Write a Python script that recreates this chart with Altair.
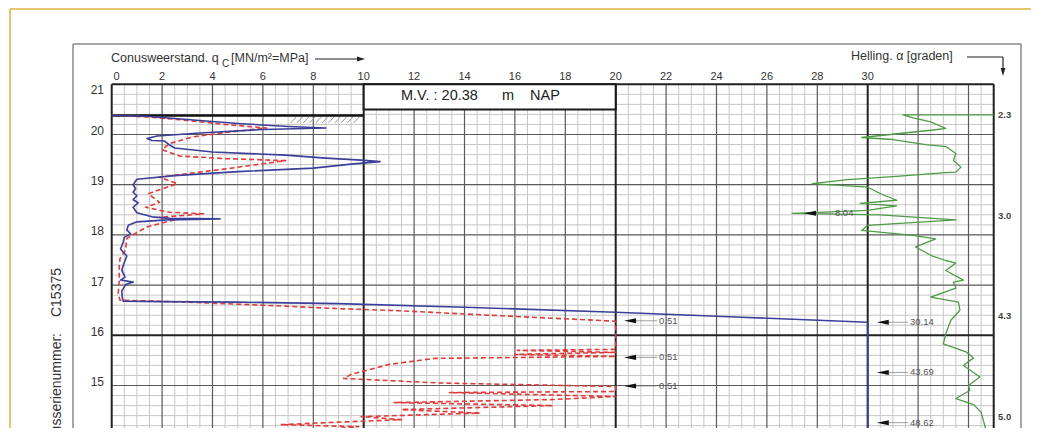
import altair as alt
import pandas as pd
import numpy as np

FONT = "Liberation Sans"

# ---------------- data (x: q_c scale units, y: depth m NAP)
blue_q = [0.0, 1.5, 3.0, 5.0, 7.0, 8.5, 6.0, 3.5, 1.8, 1.4, 1.6, 2.1, 2.3, 2.5, 4.0, 6.9,
          8.5, 9.9, 10.65, 9.5, 8.0, 5.0, 2.5, 1.0, 0.85, 0.95, 0.85, 1.0, 0.85, 1.05, 0.85,
          1.0, 1.6, 2.3, 4.3, 2.2, 1.0, 0.66, 0.6, 0.75, 0.5, 0.46, 0.35, 0.6, 0.5, 0.4,
          0.53, 0.35, 0.86, 0.55, 0.4, 0.42, 0.46, 2.0, 5.0, 9.0, 14.0, 20.0, 25.0, 30.0, 30.0]
blue_d = [20.38, 20.36, 20.30, 20.22, 20.16, 20.13, 20.10, 20.03, 19.97, 19.92, 19.88, 19.87,
          19.79, 19.73, 19.65, 19.59, 19.53, 19.49, 19.46, 19.41, 19.33, 19.26, 19.18, 19.11,
          19.00, 18.92, 18.85, 18.78, 18.70, 18.64, 18.55, 18.44, 18.36, 18.33, 18.32, 18.30,
          18.26, 18.19, 18.10, 18.02, 17.95, 17.86, 17.72, 17.58, 17.45, 17.30, 17.16, 17.10,
          17.06, 17.01, 16.88, 16.75, 16.68, 16.67, 16.66, 16.63, 16.56, 16.46, 16.36, 16.26, 14.10]

red_q = [0.0, 1.5, 3.0, 4.5, 6.15, 4.5, 3.2, 2.3, 2.0, 2.7, 4.5, 6.9, 4.6, 3.0, 1.9, 2.6,
         1.45, 1.9, 1.35, 2.3, 3.65, 1.9, 2.5, 1.4, 0.6, 0.55, 0.33, 0.3, 0.3, 0.26, 0.33,
         3.0, 6.0, 9.06, 11.4, 15.0, 20.0, 20.0, 16.1, 20.0, 16.0, 20.0, 12.8, 11.0, 9.5, 9.2,
         13.0, 20.0, 20.0, 13.4, 20.0, 17.5, 11.2, 17.5, 11.5, 14.6, 9.9, 11.5, 9.0, 6.7, 9.8, 8.0]
red_d = [20.38, 20.35, 20.28, 20.20, 20.13, 20.04, 19.95, 19.82, 19.70, 19.57, 19.52, 19.48,
         19.32, 19.22, 19.15, 19.02, 18.82, 18.65, 18.55, 18.45, 18.42, 18.35, 18.30, 18.16,
         17.93, 17.70, 17.53, 17.36, 17.10, 16.83, 16.70, 16.66, 16.60, 16.53, 16.49, 16.40,
         16.28, 15.72, 15.70, 15.66, 15.62, 15.58, 15.54, 15.42, 15.22, 15.14, 15.05, 14.98,
         14.88, 14.86, 14.78, 14.72, 14.66, 14.60, 14.52, 14.45, 14.38, 14.32, 14.27, 14.22,
         14.18, 14.10]

green_q = [35.0, 31.4, 31.8, 32.5, 33.1, 32.6, 29.76, 31.0, 32.3, 33.1, 33.5, 33.4, 33.7, 33.5,
           33.1, 31.0, 29.2, 27.8, 30.0, 30.6, 31.15, 29.7, 31.15, 30.0, 27.0, 30.5, 33.5, 30.0,
           29.76, 31.8, 32.7, 31.9, 32.6, 33.1, 33.5, 33.1, 33.8, 33.4, 33.5, 32.5, 33.6, 33.66,
           33.3, 33.1, 33.0, 33.9, 34.2, 33.8, 34.45, 34.0, 34.05, 33.5, 34.2, 34.5, 34.7]
green_d = [20.39, 20.39, 20.33, 20.25, 20.12, 20.09, 19.94, 19.90, 19.80, 19.76, 19.62, 19.48,
           19.35, 19.25, 19.24, 19.16, 19.10, 19.02, 18.95, 18.80, 18.69, 18.63, 18.58, 18.49,
           18.43, 18.40, 18.30, 18.19, 18.09, 17.99, 17.92, 17.76, 17.57, 17.49, 17.44, 17.29,
           17.10, 17.06, 16.94, 16.76, 16.66, 16.50, 16.30, 16.03, 15.83, 15.67, 15.55, 15.40,
           15.17, 15.00, 14.90, 14.74, 14.62, 14.47, 14.10]

top_ticks = list(range(0, 31, 2))
depth_ticks = [21, 20, 19, 18, 17, 16, 15]
incl_depths = [20.38, 18.38, 16.38, 14.38]
incl_labels = ["2.3", "3.0", "4.3", "5.0"]

ann_d = [16.29, 15.56, 14.99, 16.26, 15.26, 14.26, 18.43]
ann_lab = ["0.51", "0.51", "0.51", "30.14", "43.69", "48.62", "8.04"]
ann_qtri = [20.57, 20.57, 20.57, 30.6, 30.6, 30.6, 27.71]
ann_qlab = [21.64, 21.64, 21.64, 31.6, 31.6, 31.6, 28.62]

mv_level = 20.38

# ---------------- layout helpers (page pixel -> chart units)
W, H = 1023, 420
def qx(px):
    return (px - 111.7) / 25.2
def dy(py):
    return 20 + (134.5 - py) / 50.2

XD = [qx(8), qx(8 + W)]
YD = [dy(8 + H), dy(8)]
xs = alt.Scale(domain=XD, nice=False, zero=False)
ys = alt.Scale(domain=YD, nice=False, zero=False)

def X(f):
    return alt.X(f, type="quantitative", scale=xs, axis=None)
def Y(f):
    return alt.Y(f, type="quantitative", scale=ys, axis=None)

def rules(df, color, width, dash=None):
    kw = dict(color=color, strokeWidth=width)
    if dash:
        kw["strokeDash"] = dash
    return alt.Chart(df).mark_rule(**kw).encode(
        x=X("x"), x2=alt.X2("x2"), y=Y("y"), y2=alt.Y2("y2"))

def texts(df, size, align="center", color="#333", weight="normal", angle=0, baseline="middle"):
    return alt.Chart(df).mark_text(fontSize=size, align=align, baseline=baseline, color=color,
                                   font=FONT, fontWeight=weight, angle=angle).encode(
        x=X("x"), y=Y("y"), text="t:N")

D_TOP, D_BOT, Q_MAX = 21.0, YD[0], 35.0

# ---------------- grid
vq = np.round(np.arange(0, 35.01, 0.5), 2)
hd = np.round(np.arange(21.0, D_BOT, -0.2), 2)
v = pd.DataFrame({"x": vq, "x2": vq, "y": D_TOP, "y2": D_BOT})
h = pd.DataFrame({"x": 0.0, "x2": Q_MAX, "y": hd, "y2": hd})
v_minor = v[(v.x % 2) != 0]
v_major = v[((v.x % 2) == 0) & ((v.x % 10) != 0) & (v.x != 35)]
v_heavy = v[((v.x % 10) == 0) | (v.x == 35)]
h_minor = h[np.abs(h.y - np.round(h.y)) > 0.01]
h_major = h[(np.abs(h.y - np.round(h.y)) <= 0.01) & (~h.y.isin([21.0, 16.0]))]
h_heavy = h[h.y.isin([21.0, 16.0])]

layers = [
    rules(v_minor, "#c6c6c6", 1),
    rules(h_minor, "#c6c6c6", 1),
    rules(v_major, "#5a5a5a", 1.2),
    rules(h_major, "#5a5a5a", 1.2),
    rules(v_heavy, "#222222", 2),
    rules(h_heavy, "#222222", 2),
]

# M.V. box
box = pd.DataFrame({"x": [10.0], "x2": [20.0], "y": [21.0], "y2": [20.5]})
layers.append(alt.Chart(box).mark_rect(fill="white", stroke="#1a1a1a", strokeWidth=2).encode(
    x=X("x"), x2=alt.X2("x2"), y=Y("y"), y2=alt.Y2("y2")))

# hatch under ground level
hq = np.round(np.arange(7.1, 9.8, 0.25), 2)
hatch = pd.DataFrame({"x": hq, "x2": hq + 0.22, "y": mv_level - 0.15, "y2": mv_level - 0.03})
layers.append(rules(hatch, "#9a9a9a", 1))
# ground level line
layers.append(rules(pd.DataFrame({"x": [0.0], "x2": [10.0], "y": [mv_level], "y2": [mv_level]}),
                    "#111111", 2.5))

# ---------------- traces
def trace(qs, ds, color, width, dash=None):
    df = pd.DataFrame({"q": qs, "d": ds, "i": range(len(qs))})
    kw = dict(color=color, strokeWidth=width, strokeJoin="round")
    if dash:
        kw["strokeDash"] = dash
    return alt.Chart(df).mark_line(**kw).encode(x=X("q"), y=Y("d"), order=alt.Order("i:Q"))

layers.append(trace(green_q, green_d, "#4e9a47", 1.3))
layers.append(trace(red_q, red_d, "#e03a3a", 1.6, [5, 3]))
layers.append(trace(blue_q, blue_d, "#3b3f98", 1.6))

# ---------------- annotations
ann = pd.DataFrame({"x": ann_qtri, "x2": ann_qlab, "y": ann_d, "y2": ann_d, "t": ann_lab})
layers.append(rules(ann, "#8a8a8a", 0.8))
layers.append(alt.Chart(ann).mark_point(shape="M-1,0L1,-0.42L1,0.42Z", filled=True, size=144,
                                        color="#111111", opacity=1).encode(x=X("x"), y=Y("y")))
layers.append(texts(ann.assign(x=ann.x2 + 0.08), 9.5, align="left", color="#555"))

# ---------------- tick labels
tt = pd.DataFrame({"x": [qx(116.5) if t == 0 else t for t in top_ticks], "y": dy(77),
                   "t": [str(t) for t in top_ticks]})
layers.append(texts(tt, 11))
dt = pd.DataFrame({"x": qx(104), "y": [dy(90) if d == 21 else d + 0.07 for d in depth_ticks],
                   "t": [str(d) for d in depth_ticks]})
layers.append(texts(dt, 12, align="right"))
it = pd.DataFrame({"x": qx(998), "y": incl_depths, "t": incl_labels})
layers.append(texts(it, 9.5, align="left", weight="bold", color="#444"))

# ---------------- titles
layers.append(texts(pd.DataFrame({"x": [qx(111)], "y": [dy(58)], "t": ["Conusweerstand. q"]}),
                    12.5, align="left"))
layers.append(texts(pd.DataFrame({"x": [qx(222)], "y": [dy(64)], "t": ["C"]}), 10, align="left"))
layers.append(texts(pd.DataFrame({"x": [qx(231)], "y": [dy(58)], "t": ["[MN/m\u00b2=MPa]"]}),
                    12.5, align="left"))
layers.append(texts(pd.DataFrame({"x": [qx(851)], "y": [dy(56)], "t": ["Helling. \u03b1 [graden]"]}),
                    12.5, align="left"))
mv = pd.DataFrame({"x": [qx(401), qx(502), qx(530)], "y": dy(96),
                   "t": ["M.V. : 20.38", "m", "NAP"]})
layers.append(texts(mv, 14.5, align="left", color="#222"))

# arrows of the titles
arr = pd.DataFrame({"x": [qx(315), qx(967), qx(1003)], "x2": [qx(357), qx(1003), qx(1003)],
                    "y": [dy(59), dy(57), dy(57)], "y2": [dy(59), dy(57), dy(68)]})
layers.append(rules(arr, "#222", 1.2))
layers.append(alt.Chart(pd.DataFrame({"x": [qx(361)], "y": [dy(59)]})).mark_point(
    shape="M1,0L-1,-0.6L-1,0.6Z", filled=True, size=64, color="#222", opacity=1).encode(
    x=X("x"), y=Y("y")))
layers.append(alt.Chart(pd.DataFrame({"x": [qx(1003)], "y": [dy(72)]})).mark_point(
    shape="M0,1L-0.6,-1L0.6,-1Z", filled=True, size=64, color="#222", opacity=1).encode(
    x=X("x"), y=Y("y")))

# rotated series number
sn = pd.DataFrame({"x": [qx(57), qx(57)], "y": [dy(268), dy(333)], "t": ["C15375", "Conusserienummer:"]})
layers.append(texts(sn, 14, align="right", angle=270, color="#333"))

# ---------------- frames
frames_grey = pd.DataFrame({"x": [qx(73), qx(73), qx(1021)], "x2": [qx(1021), qx(73), qx(1021)],
                            "y": [dy(44), dy(44), dy(44)], "y2": [dy(44), D_BOT, D_BOT]})
layers.append(rules(frames_grey, "#8a8a8a", 1.5))
frames_or = pd.DataFrame({"x": [qx(10), qx(10)], "x2": [qx(1031), qx(10)],
                          "y": [dy(9), dy(9)], "y2": [dy(9), D_BOT]})
layers.append(rules(frames_or, "#e3b13c", 1.5))

chart = alt.layer(*layers).properties(
    width=W, height=H, padding=0, autosize=alt.AutoSizeParams(type="none")
).configure_view(stroke=None)

chart.save("out.html", embed_options={"renderer": "svg", "actions": False})
